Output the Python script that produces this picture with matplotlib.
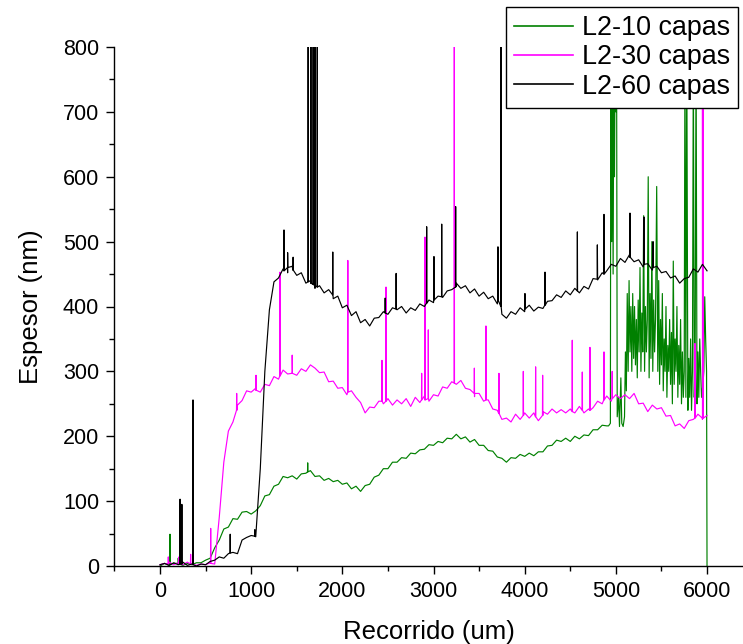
import numpy as np
import matplotlib
matplotlib.use("Agg")
import matplotlib.pyplot as plt

plt.rcParams['font.family'] = ['Liberation Sans', 'DejaVu Sans']

# ---------------- data ----------------
base_x = list(range(0, 6001, 50))

black_y = [2, 4, 1, 5, 2, 6, 1, 3, 0, 3,
           2, 7, 9, 14, 12, 19, 21, 19, 40, 44,
           47, 45, 150, 300, 395, 438, 444, 458, 452, 462,
           448, 452, 436, 440, 428, 432, 421, 426, 412, 416,
           398, 402, 386, 392, 375, 380, 370, 382, 383, 392,
           388, 398, 395, 400, 390, 398, 394, 404, 400, 410,
           406, 416, 414, 424, 426, 436, 428, 432, 421, 427,
           416, 422, 412, 416, 404, 388, 382, 392, 388, 398,
           392, 402, 393, 399, 397, 408, 409, 418, 414, 424,
           418, 428, 421, 431, 427, 443, 441, 452, 455, 465,
           462, 474, 468, 480, 469, 472, 461, 466, 456, 462,
           452, 454, 444, 447, 436, 443, 445, 458, 453, 465,
           455]
black_spk_x = [220, 240, 362, 770, 1040, 1360, 1400, 1460, 1625, 1655, 1680, 1700, 1725, 1895, 2470, 2590,
               2925, 3005, 3090, 3243, 3707, 3740, 4003, 4223, 4578, 4797, 4870, 5155, 5309, 5408]
black_spk_base = [3, 3, 2, 20, 46, 455, 460, 456, 438, 436, 434, 432, 430, 418, 390, 396,
                  405, 410, 415, 430, 410, 400, 396, 402, 424, 442, 450, 476, 465, 460]
black_spk_top = [103, 95, 256, 49, 56, 518, 483, 476, 800, 800, 800, 800, 800, 484, 413, 451,
                 523, 477, 527, 554, 492, 800, 420, 453, 515, 495, 542, 544, 538, 500]

magenta_y = [2, 4, 6, 2, 5, 2, 6, 3, 1, 3,
             2, 5, 3, 75, 160, 208, 222, 248, 255, 270,
             268, 274, 268, 280, 278, 292, 288, 302, 296, 300,
             294, 304, 300, 310, 305, 298, 299, 284, 285, 274,
             275, 264, 270, 260, 252, 236, 245, 244, 254, 250,
             258, 248, 256, 250, 258, 246, 260, 252, 262, 254,
             264, 262, 276, 274, 284, 280, 286, 274, 272, 261,
             266, 254, 256, 242, 240, 226, 228, 222, 234, 226,
             236, 228, 236, 224, 238, 234, 242, 236, 241, 236,
             242, 236, 246, 236, 242, 244, 254, 250, 262, 254,
             264, 258, 264, 258, 266, 250, 251, 238, 248, 242,
             244, 231, 232, 216, 219, 212, 224, 226, 234, 226,
             232]
magenta_spk_x = [91, 208, 336, 556, 841, 1053, 1316, 1450, 2060, 2435, 2479, 2870, 2907, 2943, 3228,
                 3448, 3575, 3718, 3985, 4120, 4197, 4522, 4632, 4716, 4870, 4960, 5868, 5950, 5958]
magenta_spk_base = [3, 4, 3, 4, 240, 271, 293, 297, 268, 254, 254, 256, 256, 258, 282,
                    266, 256, 235, 232, 230, 232, 238, 240, 240, 256, 258, 228, 228, 228]
magenta_spk_top = [14, 14, 18, 58, 266, 294, 453, 325, 471, 317, 430, 297, 507, 364, 800,
                   305, 370, 297, 300, 307, 294, 348, 299, 337, 330, 300, 343, 800, 800]

green_y = [0, 4, 1, 4, 3, 1, 4, 2, 5, 5,
           9, 12, 28, 40, 57, 60, 73, 72, 83, 84,
           80, 85, 93, 108, 110, 123, 126, 138, 136, 139,
           134, 142, 143, 147, 138, 139, 132, 135, 130, 132,
           126, 128, 119, 123, 115, 124, 126, 137, 140, 150,
           150, 160, 160, 167, 166, 174, 173, 179, 180, 187,
           186, 192, 190, 197, 196, 203, 196, 199, 191, 195,
           186, 186, 178, 177, 168, 166, 160, 167, 166, 172,
           169, 174, 170, 176, 176, 185, 186, 194, 192, 197,
           192, 200, 196, 202, 201, 210, 210, 217, 216]
green_tail_x = [4920, 4940, 4945, 4955, 4962, 4970, 4978, 4985, 4992, 5000, 5008, 5015, 5030, 5040, 5055,
                5065, 5080, 5095, 5105, 5115, 5125, 5135, 5145, 5155, 5165, 5175, 5185, 5195, 5205, 5215,
                5225, 5235, 5245, 5255, 5265, 5275, 5285, 5295, 5305, 5315, 5325, 5335, 5345, 5355, 5365,
                5375, 5385, 5395, 5405, 5415, 5425, 5435, 5448, 5460, 5470, 5480, 5490, 5500, 5510, 5520,
                5530, 5540, 5550, 5560, 5570, 5580, 5590, 5600, 5610, 5620, 5630, 5640, 5650, 5660, 5670,
                5680, 5690, 5700, 5710, 5720, 5730, 5740, 5750, 5758, 5768, 5778, 5790, 5800, 5810, 5820,
                5830, 5840, 5850, 5860, 5870, 5880, 5890, 5900, 5910, 5920, 5930, 5940, 5955, 5965, 5975,
                5985, 5995, 6000]
green_tail_y = [216, 220, 800, 500, 800, 450, 800, 600, 800, 700, 800, 230, 260, 215, 290,
                220, 215, 230, 330, 270, 420, 300, 440, 330, 400, 300, 420, 320, 400, 310,
                380, 290, 410, 330, 460, 300, 390, 330, 540, 300, 400, 330, 380, 600, 290,
                420, 320, 500, 300, 410, 330, 380, 585, 300, 440, 280, 380, 310, 420, 270,
                350, 300, 400, 260, 340, 300, 380, 280, 360, 250, 470, 280, 350, 300, 400,
                260, 340, 280, 380, 250, 330, 260, 300, 800, 260, 800, 240, 320, 260, 350,
                240, 300, 800, 260, 330, 800, 250, 330, 260, 350, 300, 260, 280, 300, 415,
                350, 300, 0]
green_spk_x = [110, 200, 1620]
green_spk_base = [2, 4, 145]
green_spk_top = [49, 12, 159]

labels = ['L2-10 capas', 'L2-30 capas', 'L2-60 capas']
colors = ['#008000', '#FF00FF', '#000000']


def build(xs, ys, sx, sb, st):
    pts = [(x, y, 0) for x, y in zip(xs, ys)]
    for x, b, t in zip(sx, sb, st):
        pts += [(x - 2, b, 1), (x, t, 2), (x + 2, b, 3)]
    pts.sort(key=lambda p: (p[0], p[2]))
    return np.array([p[0] for p in pts]), np.array([p[1] for p in pts])


n_green = len(green_y)
gx, gy = build(base_x[:n_green] + green_tail_x, green_y + green_tail_y,
               green_spk_x, green_spk_base, green_spk_top)
mx, my = build(base_x, magenta_y, magenta_spk_x, magenta_spk_base, magenta_spk_top)
bx, by = build(base_x, black_y, black_spk_x, black_spk_base, black_spk_top)

# ---------------- figure ----------------
W, H = 743, 644
fig = plt.figure(figsize=(W / 100, H / 100), dpi=100)
x0, x1 = -500, 6400
left_px = 160 - 500 * 0.09117
right_px = 160 + 6400 * 0.09117
ax = fig.add_axes([left_px / W, (H - 566) / H, (right_px - left_px) / W, (566 - 47) / H])

lines = []
for (xx, yy), c, lab in zip([(gx, gy), (mx, my), (bx, by)], colors, labels):
    ln, = ax.plot(xx, yy, color=c, lw=0.85, label=lab)
    lines.append(ln)

ax.set_xlim(x0, x1)
ax.set_ylim(0, 800)
ax.set_xticks(range(0, 6001, 1000))
ax.set_xticks(range(-500, 6401, 500), minor=True)
ax.set_yticks(range(0, 801, 100))
ax.set_yticks(range(0, 801, 50), minor=True)
for s in ['top', 'right']:
    ax.spines[s].set_visible(False)
for s in ['left', 'bottom']:
    ax.spines[s].set_linewidth(1.0)
ax.tick_params(which='major', direction='out', length=6, width=1.0, labelsize=15.5, pad=5)
ax.tick_params(which='minor', direction='out', length=3.5, width=1.0)

ax.set_xlabel('Recorrido (um)', fontsize=18.5, labelpad=13)
ax.set_ylabel('Espesor (nm)', fontsize=18.5, labelpad=14)

leg = fig.legend(handles=lines, labels=labels, loc='upper right',
                 bbox_to_anchor=(738 / W, 1 - 7 / H), fontsize=19.4,
                 frameon=True, fancybox=False, edgecolor='black', framealpha=1,
                 handlelength=2.2, handletextpad=0.33, labelspacing=0.12,
                 borderpad=0.3, borderaxespad=0)
leg.get_frame().set_linewidth(1.0)
for l in leg.get_lines():
    l.set_linewidth(1.2)

fig.savefig('out.png', dpi=100)
